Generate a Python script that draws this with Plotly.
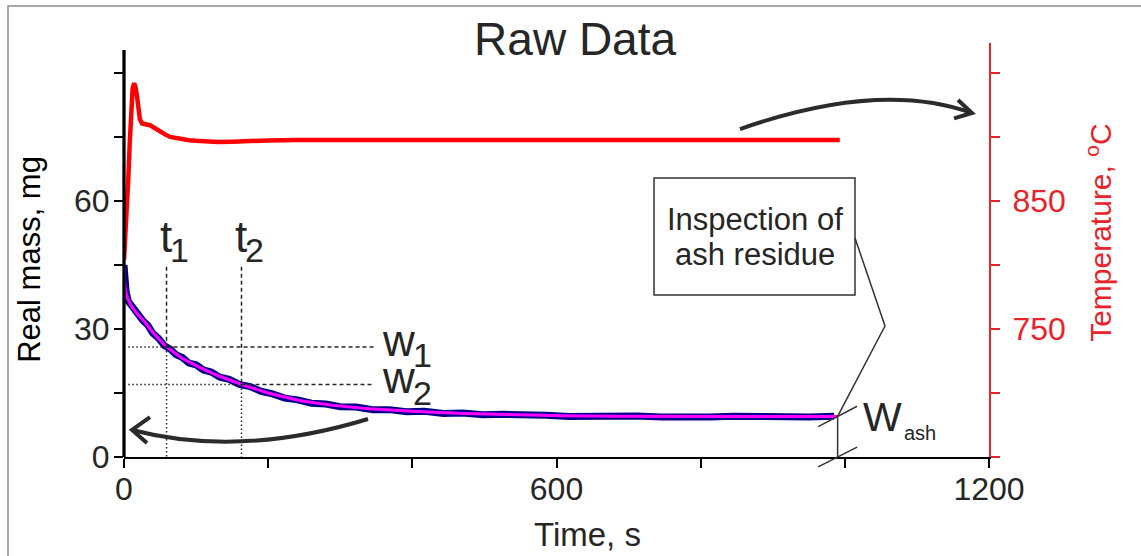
import plotly.graph_objects as go

# ---- data -------------------------------------------------------------
# Furnace temperature, degC
TEMP_TIME = [0, 2, 4, 6, 8, 10, 12, 14, 16, 18, 20, 22, 25, 30, 36, 43, 50, 57, 64, 72,
             80, 90, 100, 115, 130, 150, 175, 200, 240, 290, 310, 330, 380, 440, 500,
             560, 585, 600, 620, 680, 740, 800, 860, 900, 920, 960, 993]
TEMP = [804, 822, 845, 868, 896, 922, 938, 942, 939, 932, 923, 914, 910.5, 909.8, 909.2,
        906.8, 904, 902, 900, 899, 898.3, 897.5, 897, 896.5, 896.1, 896.3, 897, 897.3,
        897.6, 897.6, 897.0, 897.6, 897.8, 897.5, 897.6, 897.6, 897.0, 897.7, 897.6,
        897.5, 897.7, 897.6, 897.8, 897.6, 897.2, 897.6, 897.6]

# Measured sample mass, mg
RAW_TIME = [0, 1, 3, 6, 10, 15, 20, 26, 33, 40, 48, 56, 64, 72, 81, 90, 100, 110, 121,
            133, 146, 160, 175, 190, 206, 223, 241, 260, 280, 300, 322, 345, 368, 392,
            417, 443, 470, 498, 527, 556, 586, 617, 648, 680, 712, 745, 778, 812, 846,
            880, 915, 950, 985]
RAW_MASS = [45.0, 40.4, 38.7, 36.5, 35.6, 34.0, 33.4, 32.0, 30.9, 29.0, 27.8, 26.1, 25.3,
            24.0, 23.3, 22.0, 21.6, 20.4, 19.9, 18.7, 18.2, 17.0, 16.5, 15.4, 14.8, 13.8,
            13.4, 12.6, 12.4, 11.8, 11.7, 11.1, 11.1, 10.6, 10.7, 10.2, 10.3, 9.9, 10.0,
            9.7, 9.8, 9.5, 9.6, 9.4, 9.6, 9.4, 9.6, 9.4, 9.55, 9.4, 9.6, 9.4, 9.55]

# Fitted mass curve, mg
FIT_TIME = [0, 0.5, 2, 5, 10, 18, 28, 40, 59, 80, 105, 130, 163, 200, 245, 290, 340,
            400, 470, 540, 610, 680, 750, 820, 900, 990]
FIT_MASS = [45.0, 41.5, 39.0, 37.2, 35.4, 33.6, 31.8, 29.2, 25.8, 23.2, 21.0, 19.1, 17.0,
            15.0, 13.2, 12.1, 11.3, 10.7, 10.2, 9.85, 9.65, 9.55, 9.5, 9.5, 9.5, 9.5]

# Marked readings on the mass curve
T1, T2 = 59, 163
W1, W2 = 25.8, 17.0
T_END, W_ASH = 990, 9.5

X_TICKS = [0, 200, 400, 600, 800, 1000, 1200]
X_LABELED = [0, 600, 1200]
Y_TICKS = [0, 15, 30, 45, 60, 75, 90]
Y_LABELED = [0, 30, 60]
T_TICKS = [650, 700, 750, 800, 850, 900, 950]
T_LABELED = [750, 850]

# ---- styling ----------------------------------------------------------
FONT = "Liberation Sans, Arial, Helvetica, sans-serif"
INK = "#262626"
AXRED = "#e8242a"

fig = go.Figure()
fig.add_trace(go.Scatter(x=RAW_TIME, y=RAW_MASS, mode="lines",
                         line=dict(color="#00008b", width=7), yaxis="y",
                         showlegend=False, hoverinfo="skip"))
fig.add_trace(go.Scatter(x=FIT_TIME, y=FIT_MASS, mode="lines",
                         line=dict(color="#ff00ff", width=3), yaxis="y",
                         showlegend=False, hoverinfo="skip"))
fig.add_trace(go.Scatter(x=TEMP_TIME, y=TEMP, mode="lines",
                         line=dict(color="#ff0000", width=4.5), yaxis="y2",
                         showlegend=False, hoverinfo="skip"))

shapes = []
DASH = "4px,3px"
DOT = "1.5px,2.5px"
thin = dict(color=INK, width=1.5)


def seg(x0, y0, x1, y1, dash):
    shapes.append(dict(type="line", xref="x", yref="y", x0=x0, y0=y0, x1=x1, y1=y1,
                       line=dict(thin, dash=dash)))


# reading guides for (t1, w1) and (t2, w2)
GUIDE_TOP, GUIDE_LEFT, GUIDE_RIGHT = 44.6, 6, 347
for t, w in ((T1, W1), (T2, W2)):
    seg(t, GUIDE_TOP, t, w, DASH)
    seg(t, w, t, 0, DOT)
    seg(GUIDE_LEFT, w, t, w, DOT)
    seg(t, w, GUIDE_RIGHT, w, DASH)

# left mass axis line
shapes.append(dict(type="line", xref="paper", yref="y", x0=0, x1=0, y0=0, y1=95.4,
                   line=dict(color="black", width=3.3)))

arrow = dict(color="#2b2b2b", width=4)
# curved arrow pointing to the mass axis
shapes.append(dict(type="path", xref="x", yref="y",
                   path="M 338.5 8.91 Q 160.9 -0.23 11.1 6.33", line=arrow))
shapes.append(dict(type="path", xref="x", yref="y",
                   path="M 36.1 9.37 L 11.1 6.33 L 31.9 3.28", line=arrow))
# curved arrow pointing to the temperature axis
shapes.append(dict(type="path", xref="x", yref="y",
                   path="M 854.6 76.87 Q 1048.8 88.36 1176.4 80.62", line=arrow))
shapes.append(dict(type="path", xref="x", yref="y",
                   path="M 1157 83.67 L 1176.4 80.62 L 1151.5 79.38", line=arrow))

# callout box and its leader
box = dict(color="#333333", width=1.5)
shapes.append(dict(type="rect", xref="x", yref="y", x0=735.3, x1=1014.1, y0=37.97, y1=65.39,
                   line=box, fillcolor="white"))
shapes.append(dict(type="path", xref="x", yref="y",
                   path=f"M 1014.1 51.33 L 1055.7 30.7 L {T_END} {W_ASH}", line=box))

# ash residue dimension with break marks
shapes.append(dict(type="line", xref="x", yref="y", x0=T_END, x1=T_END, y0=0, y1=W_ASH,
                   line=box))
shapes.append(dict(type="line", xref="x", yref="y", x0=T_END - 27, x1=T_END + 27,
                   y0=W_ASH - 2.4, y1=W_ASH + 2.4, line=box))
shapes.append(dict(type="line", xref="x", yref="paper", x0=T_END - 27, x1=T_END + 27,
                   y0=-0.024, y1=0.024, line=box))

# outer frame
shapes.append(dict(type="rect", xref="paper", yref="paper", x0=-0.1341, x1=1.3,
                   y0=-0.4, y1=1.0894, line=dict(color="#8c8c8c", width=1.5),
                   layer="below"))

ann = []


def label(x, y, text, size, xref="x", yref="y", color=INK, angle=0):
    ann.append(dict(x=x, y=y, xref=xref, yref=yref, text=text, showarrow=False,
                    xanchor="center", yanchor="middle", textangle=angle,
                    font=dict(family=FONT, size=size, color=color)))


def lower_letter(x, y, text, size):
    # bottom-anchored, height-limited box around a lowercase letter
    ann.append(dict(x=x, y=y, xref="x", yref="y", text=text, showarrow=False,
                    xanchor="center", yanchor="bottom", valign="bottom", height=33,
                    borderpad=0, font=dict(family=FONT, size=size, color=INK)))


label(58.3, 51.6, "t", 44)
label(77.5, 48.4, "1", 34)
label(162.1, 51.6, "t", 44)
label(180.5, 48.6, "2", 34)
lower_letter(380.6, 21.33, "w", 44)
label(413.5, 23.9, "1", 34)
lower_letter(380.6, 12.75, "w", 44)
label(414.5, 14.95, "2", 34)
label(1052.2, 9.26, "W", 41)
label(1104.5, 5.6, "ash", 20)
label(874.8, 55.7, "Inspection of", 31)
label(874.8, 47.5, "ash residue", 31)

label(0.5364, -0.186, "Time, s", 33, xref="paper", yref="paper")
label(-0.1096, 0.4768, "Real mass, mg", 31, xref="paper", yref="paper", color="black",
      angle=-90)
label(1.1276, 0.5423, "Temperature, <sup>o</sup>C", 30, xref="paper", yref="paper",
      color=AXRED, angle=-90)

tickfont = dict(family=FONT, size=32, color=INK)
fig.update_layout(
    width=1141, height=556, autosize=False,
    margin=dict(l=124, r=152, t=43, b=99, pad=0),
    paper_bgcolor="white", plot_bgcolor="white",
    title=dict(text="Raw Data", x=0.504, xanchor="center", y=0.93, yanchor="middle",
               font=dict(family=FONT, size=46, color=INK)),
    xaxis=dict(range=[0, 1200], tickvals=X_LABELED, ticks="outside",
               ticklen=9, tickwidth=2, tickcolor="black", showline=True, linecolor="black",
               linewidth=2, showgrid=False, zeroline=False, tickfont=tickfont,
               ticklabelstandoff=-6,
               minor=dict(tickvals=X_TICKS, ticks="outside", ticklen=9, tickwidth=2,
                          tickcolor="black", showgrid=False)),
    yaxis=dict(range=[0, 97.03], tickvals=Y_LABELED, ticks="outside",
               ticklen=9, tickwidth=2, tickcolor="black", showline=False, showgrid=False,
               zeroline=False, tickfont=tickfont, ticklabelstandoff=-2,
               minor=dict(tickvals=Y_TICKS, ticks="outside", ticklen=9, tickwidth=2,
                          tickcolor="black", showgrid=False)),
    yaxis2=dict(range=[650, 973.4], overlaying="y", side="right", tickvals=T_LABELED,
                ticks="outside", ticklen=9, tickwidth=1.5,
                tickcolor=AXRED, showline=True, linecolor=AXRED, linewidth=2,
                showgrid=False, zeroline=False, ticklabelstandoff=6,
                tickfont=dict(family=FONT, size=32, color=AXRED),
                minor=dict(tickvals=T_TICKS, ticks="outside", ticklen=9, tickwidth=1.5,
                           tickcolor=AXRED, showgrid=False)),
    shapes=shapes, annotations=ann, showlegend=False,
)

fig.write_html("out.html")
